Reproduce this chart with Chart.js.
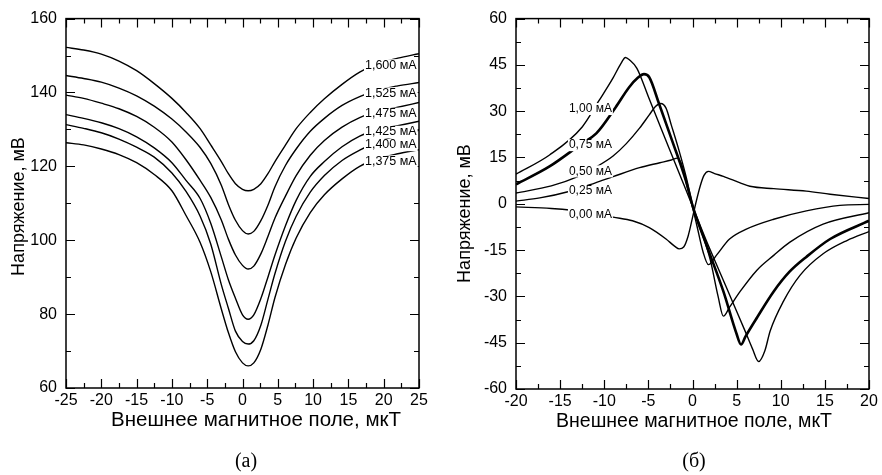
<!DOCTYPE html>
<html>
<head>
<meta charset="utf-8">
<script src="https://cdn.jsdelivr.net/npm/chart.js@4"></script>
<style>
  html, body { margin: 0; padding: 0; background: #fff; }
  #wrap { position: relative; width: 882px; height: 475px; }
  canvas { position: absolute; top: 0; }
  #chartA { left: 0; }
  #chartB { left: 441px; }
  .cap { position: absolute; top: 449px; width: 60px; text-align: center;
         font-family: "Liberation Serif", "Times New Roman", serif; font-size: 20px; }
</style>
</head>
<body>
<div id="wrap">
  <canvas id="chartA" width="441" height="475"></canvas>
  <canvas id="chartB" width="441" height="475"></canvas>
  <div class="cap" style="left:216px">(а)</div>
  <div class="cap" style="left:664px">(б)</div>
</div>
<script>
// ---- (a) voltage vs field, several bias currents
const fieldA = [-25, -22.5, -20, -17.5, -15, -12.5, -10, -8, -6, -4.5, -3, -2, -1, 0, 0.8,
                1.6, 2.6, 3.6, 4.6, 6.1, 7.6, 9.6, 11.6, 14.1, 16.6, 19.1, 22, 25];
const v1600 = [152.2, 151.5, 150.4, 148.5, 145.9, 142.4, 138.4, 134.6, 130.2, 125.8, 121.3, 118.0, 115.3, 113.8, 113.4,
               113.8, 115.3, 118.0, 121.3, 125.8, 130.2, 134.6, 138.3, 142.2, 145.5, 147.8, 149.3, 150.5];
const v1525 = [144.6, 143.8, 142.8, 141.2, 139.1, 136.3, 132.8, 129.3, 125.1, 120.8, 114.9, 109.7, 105.4, 102.6, 101.7,
               102.4, 105.3, 109.5, 114.5, 120.3, 124.7, 129.5, 133.0, 136.5, 138.9, 140.6, 141.8, 142.7];
const v1475 = [139.3, 138.4, 137.1, 135.6, 133.5, 130.6, 126.6, 121.8, 116.2, 111.6, 105.5, 100.3, 96.0, 93.2, 92.2,
               93.0, 96.3, 101.0, 106.0, 112.0, 117.5, 123.0, 127.0, 130.6, 133.2, 134.8, 136.0, 137.3];
const v1425 = [134.0, 133.0, 131.8, 130.2, 128.0, 125.0, 121.0, 116.2, 111.3, 104.6, 95.5, 89.3, 84.3, 79.8, 78.6,
               79.8, 84.2, 90.0, 96.0, 104.0, 110.8, 117.3, 121.3, 125.3, 128.2, 129.9, 131.0, 132.2];
const v1400 = [131.3, 130.3, 129.1, 127.4, 125.2, 122.5, 118.2, 113.2, 106.5, 99.0, 88.0, 81.6, 75.4, 72.6, 71.9,
               72.8, 77.0, 84.0, 91.0, 99.8, 106.5, 113.0, 117.5, 121.6, 124.4, 126.6, 128.3, 129.8];
const v1375 = [126.4, 125.8, 124.7, 123.2, 121.0, 117.8, 113.4, 106.7, 99.4, 91.5, 81.4, 75.0, 69.8, 66.8, 66.0,
               66.8, 70.5, 77.0, 84.5, 93.5, 100.6, 107.5, 112.3, 116.6, 120.0, 122.0, 123.4, 124.5];
const labelsA = ['1,600 мА', '1,525 мА', '1,475 мА', '1,425 мА', '1,400 мА', '1,375 мА'];
const labelYA = [147.3, 139.7, 134.2, 129.3, 125.8, 121.3];

// ---- (б)
const x100 = [-20, -16.2, -12.5, -10.6, -9, -8.1, -7.6, -7.1, -6.3, -5, -3.5, -2, -1, 0.1, 1.5, 3, 4.5, 6, 6.8, 7.5, 8.2, 8.8, 10.3, 12.2, 14.8, 17.5, 20];
const y100 = [9.6, 15.8, 24.9, 33.4, 40.8, 45.5, 47.4, 46.5, 43.9, 34.7, 24.0, 13.4, 6.3, -1.5, -11.5, -21.5, -31.5, -41.5, -47, -51.1, -47.6, -41.2, -31.6, -23.1, -16.2, -11.9, -9.0];
const x075 = [-20, -16.2, -12.5, -10.9, -8.7, -7.2, -6.2, -5.5, -4.9, -3.8, -2.25, -0.75, 0.1, 1.6, 3.5, 5.0, 5.5, 6.0, 7.3, 9.2, 11, 12.9, 15.6, 20];
const y075 = [6.3, 12.1, 19.6, 22.8, 31.3, 37.7, 40.8, 42.0, 41.0, 32.5, 20, 7.5, -1.5, -13.5, -28.4, -42.2, -45.6, -43, -36.9, -28.4, -22, -17.2, -11.4, -5.5];
const x050 = [-20, -16, -13, -11, -9, -7.5, -6, -4.9, -4.2, -3.6, -3.0, -2.4, -1.5, -0.7, 0.1, 0.5, 2.0, 2.9, 3.5, 4.2, 5.4, 7.3, 9.2, 11, 14.8, 20];
const y050 = [3.5, 5.8, 8.8, 11.8, 15.5, 19.5, 24.5, 28.8, 31.5, 32.5, 31.0, 25.5, 17.0, 8.5, -1.5, -5, -18, -30, -36.4, -33.5, -28.4, -21.5, -16.7, -12.5, -6.6, -2.9];
const x025 = [-20, -17.3, -14, -11, -9, -6, -3.7, -2.4, -1.7, -1.2, -0.7, 0.1, 0.5, 1.2, 1.8, 2.7, 4.2, 6.1, 9.2, 12.9, 16.7, 20];
const y025 = [0.85, 1.9, 4.0, 6.8, 8.8, 11.7, 13.3, 14.2, 14.8, 12.5, 6.7, -2.3, -7.1, -15.6, -19.7, -16.7, -11.4, -8.2, -5.0, -2.3, -0.5, -0.2];
const x000 = [-20, -16, -12, -9, -6.8, -4.9, -3, -2, -1.5, -1.0, -0.5, 0, 0.4, 0.9, 1.3, 1.8, 2.5, 3.5, 5.4, 6.5, 9.2, 12.9, 15.6, 20];
const y000 = [-1.0, -1.5, -2.6, -4.3, -5.5, -7.7, -11.4, -13.8, -14.6, -14.0, -10.5, -4.5, 0.5, 6.0, 9.2, 10.5, 9.8, 8.9, 6.8, 5.7, 4.9, 4.1, 3.1, 1.7];
const labelsB = ['1,00 мА', '0,75 мА', '0,50 мА', '0,25 мА', '0,00 мА'];
const labelYB = [30.7, 19.0, 10.5, 4.15, -3.4];

const xTitle = 'Внешнее магнитное поле, мкТ';
const yTitle = 'Напряжение, мВ';
const fontName = "'Liberation Sans', Arial, sans-serif";

Chart.defaults.font.family = fontName;
Chart.defaults.color = '#000';

function pairs(xs, ys) {
  return xs.map((x, i) => ({ x: x, y: ys[i] }));
}
function curve(xs, ys, w) {
  return { data: pairs(xs, ys), borderColor: '#000', borderWidth: w || 1.4, pointRadius: 0,
           cubicInterpolationMode: 'monotone', fill: false };
}

// frame with inward ticks on all sides, curve labels and axis titles
const frameTicks = {
  id: 'frameTicks',
  afterDatasetsDraw(chart, args, o) {
    const { ctx, chartArea: { left, right, top, bottom }, scales: { x, y } } = chart;
    ctx.save();
    ctx.strokeStyle = '#000';
    ctx.lineWidth = 1.2;
    ctx.beginPath();
    for (let i = 0; ; i++) {
      const v = x.min + i * o.xMinor;
      if (v > x.max + 1e-9) break;
      const len = i % 2 === 0 ? 9 : 5;
      const px = Math.round(x.getPixelForValue(v)) + 0.5;
      ctx.moveTo(px, bottom); ctx.lineTo(px, bottom - len);
      ctx.moveTo(px, top); ctx.lineTo(px, top + len);
    }
    for (let i = 0; ; i++) {
      const v = y.min + i * o.yMinor;
      if (v > y.max + 1e-9) break;
      const len = i % 2 === 0 ? 9 : 5;
      const py = Math.round(y.getPixelForValue(v)) + 0.5;
      ctx.moveTo(left, py); ctx.lineTo(left + len, py);
      ctx.moveTo(right, py); ctx.lineTo(right - len, py);
    }
    ctx.stroke();
    ctx.lineWidth = 1.5;
    ctx.strokeRect(left, top, right - left, bottom - top);

    ctx.font = o.labelSize + 'px ' + fontName;
    ctx.textBaseline = 'middle';
    ctx.textAlign = 'left';
    o.labels.forEach((t, i) => {
      const px = x.getPixelForValue(o.labelX);
      const py = y.getPixelForValue(o.labelY[i]);
      const w = ctx.measureText(t).width;
      ctx.fillStyle = '#fff';
      ctx.fillRect(px - 1, py - o.labelSize * 0.5, w + 2, o.labelSize);
      ctx.fillStyle = '#000';
      ctx.fillText(t, px, py);
    });

    // axis titles
    ctx.textAlign = 'center';
    ctx.font = o.xTitleSize + 'px ' + fontName;
    ctx.fillText(xTitle, o.xTitleAt[0], o.xTitleAt[1]);
    ctx.translate(o.yTitleAt[0], o.yTitleAt[1]);
    ctx.rotate(-Math.PI / 2);
    ctx.font = '18px ' + fontName;
    ctx.fillText(yTitle, 0, 0);
    ctx.restore();
  }
};

function axes(xMin, xMax, xStep, yMin, yMax, yStep, yWidth) {
  return {
    x: {
      type: 'linear', min: xMin, max: xMax,
      ticks: { stepSize: xStep, autoSkip: false, maxRotation: 0, padding: 3, font: { size: 16 } },
      grid: { display: false, drawTicks: false },
      border: { display: false },
      afterFit: s => { s.height = 50; }
    },
    y: {
      type: 'linear', min: yMin, max: yMax,
      ticks: { stepSize: yStep, padding: 9, font: { size: 16 } },
      grid: { display: false, drawTicks: false },
      border: { display: false },
      afterFit: s => { s.width = yWidth; }
    }
  };
}

new Chart(document.getElementById('chartA'), {
  type: 'line',
  data: {
    datasets: [
      curve(fieldA, v1600), curve(fieldA, v1525), curve(fieldA, v1475),
      curve(fieldA, v1425), curve(fieldA, v1400), curve(fieldA, v1375)
    ]
  },
  options: {
    responsive: false,
    animation: false,
    layout: { padding: { left: 0, top: 13, right: 22, bottom: 37 } },
    scales: axes(-25, 25, 5, 60, 160, 20, 66),
    plugins: {
      legend: { display: false },
      tooltip: { enabled: false },
      frameTicks: { xMinor: 2.5, yMinor: 10, labels: labelsA, labelY: labelYA, labelX: 17.35, labelSize: 12.5,
                    xTitleSize: 20.5, xTitleAt: [256, 420], yTitleAt: [19.5, 206.5] }
    }
  },
  plugins: [frameTicks]
});

new Chart(document.getElementById('chartB'), {
  type: 'line',
  data: {
    datasets: [
      curve(x100, y100), curve(x075, y075, 2.6), curve(x050, y050),
      curve(x025, y025), curve(x000, y000)
    ]
  },
  options: {
    responsive: false,
    animation: false,
    layout: { padding: { left: 0, top: 13, right: 13, bottom: 36 } },
    scales: axes(-20, 20, 5, -60, 60, 15, 75),
    plugins: {
      legend: { display: false },
      tooltip: { enabled: false },
      frameTicks: { xMinor: 2.5, yMinor: 7.5, labels: labelsB, labelY: labelYB, labelX: -14.0, labelSize: 12,
                    xTitleSize: 19.5, xTitleAt: [253, 422], yTitleAt: [24, 213.5] }
    }
  },
  plugins: [frameTicks]
});
</script>
</body>
</html>
